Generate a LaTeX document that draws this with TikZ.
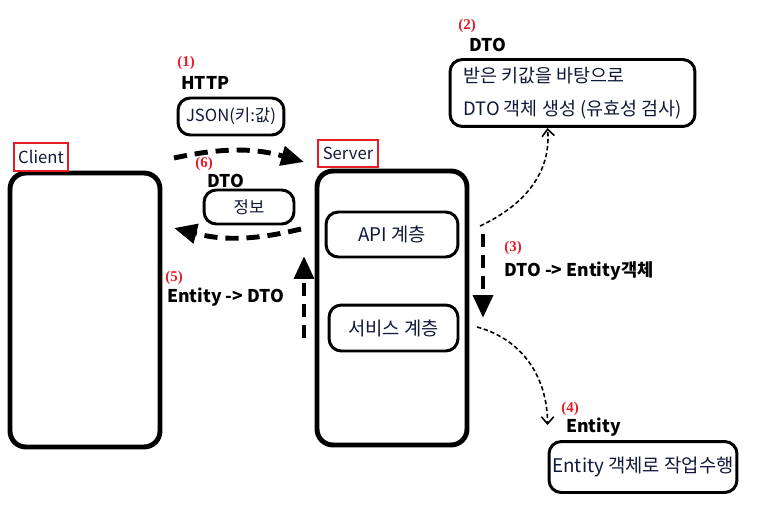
\documentclass[tikz,border=0pt]{standalone}
\usepackage{fontspec}
\setmainfont{Noto Sans CJK KR}
\newfontfamily\numfont{Liberation Serif}
\usetikzlibrary{arrows.meta}
\definecolor{txtblue}{RGB}{16,24,56}
\definecolor{numred}{RGB}{232,28,36}

\begin{document}
\begin{tikzpicture}[x=0.02cm,y=-0.02cm,
  frame/.style={draw,line width=2.8pt,rounded corners=9pt},
  layer/.style={draw,line width=1.7pt,rounded corners=7pt,text=txtblue,font=\fontsize{9.5}{11}\selectfont},
  wide/.style={font=\fontsize{10.7}{12}\selectfont},
  tag/.style={draw=numred,line width=1.4pt,text=txtblue,inner sep=0pt,font=\fontsize{9.5}{11}\selectfont},
  num/.style={anchor=west,inner sep=0pt,text=numred,font=\numfont\bfseries\fontsize{8.5}{10}\selectfont},
  lbl/.style={anchor=west,inner sep=0pt,font=\bfseries\fontsize{10}{12}\selectfont},
  flow/.style={line width=2.8pt,dash pattern=on 7.5pt off 4.5pt,-{Triangle[length=13pt,width=11pt]}},
  hint/.style={line width=0.9pt,dash pattern=on 2.5pt off 1.5pt,-{Straight Barb[length=4pt,width=7pt]}}]
  \useasboundingbox (0,0) rectangle (757,510);

  \node[frame,minimum width=3cm,minimum height=5.48cm] (client) at (85,310) {};
  \node[frame,minimum width=3cm,minimum height=5.48cm] (server) at (392,308) {};
  \node[tag,minimum width=1.08cm,minimum height=0.56cm] (clienttag) at (41,157) {Client};
  \node[tag,minimum width=1.2cm,minimum height=0.54cm] (servertag) at (348,153.5) {Server};

  \node[layer,wide,minimum width=2.64cm,minimum height=0.9cm] (api) at (392,234.5) {API 계층};
  \node[layer,wide,minimum width=2.58cm,minimum height=0.92cm] (service) at (393.5,328) {서비스 계층};

  \node[layer,minimum width=2.12cm,minimum height=0.74cm] (json) at (231,116.5) {JSON(키:값)};
  \node[layer,minimum width=1.8cm,minimum height=0.68cm] (info) at (249,207) {정보};
  \node[layer,minimum width=4.9cm,minimum height=1.34cm,align=left,inner xsep=2pt,
        font=\fontsize{10.5}{18.7}\selectfont] (dto) at (572.5,93)
        {받은 키값을 바탕으로\\DTO 객체 생성 (유효성 검사)};
  \node[layer,wide,minimum width=3.76cm,minimum height=1.02cm,inner xsep=1pt] (entity) at (643,467) {Entity 객체로 작업수행};

  \node[num] (n1) at (177,63) {(1)};
  \node[lbl] (http) at (181,83) {HTTP};
  \node[num] (n2) at (458,26) {(2)};
  \node[lbl] (dtolbl) at (469,45) {DTO};
  \node[num] (n3) at (504,248) {(3)};
  \node[lbl] (toentity) at (504,271) {DTO -> Entity객체};
  \node[num] (n4) at (561,409) {(4)};
  \node[lbl] (entitylbl) at (566,427) {Entity};
  \node[num] (n5) at (165,278) {(5)};
  \node[lbl] (todto) at (167,297) {Entity -> DTO};
  \node[num] (n6) at (195,164) {(6)};
  \node[lbl] (infolbl) at (207,181) {DTO};

  \coordinate (req) at (174,158);
  \coordinate (reqend) at (304,162);
  \coordinate (res) at (301,229);
  \coordinate (resend) at (174,228);
  \coordinate (up) at (304,338);
  \coordinate (upend) at (304,256);
  \coordinate (down) at (483,234);
  \coordinate (downend) at (483,318);
  \coordinate (fork1) at (480,226);
  \coordinate (fork2) at (477,327);

  \draw[flow] (req) to[bend left=14] (reqend);
  \draw[flow] (res) to[bend left=14] (resend);
  \draw[flow] (up) -- (upend);
  \draw[flow] (down) -- (downend);
  \draw[hint] (fork1) to[out=25,in=-85] ([xshift=-0.5cm]dto.south);
  \draw[hint] (fork2) to[out=-15,in=90] ([yshift=0.3cm]entity.north west);
\end{tikzpicture}
\end{document}
